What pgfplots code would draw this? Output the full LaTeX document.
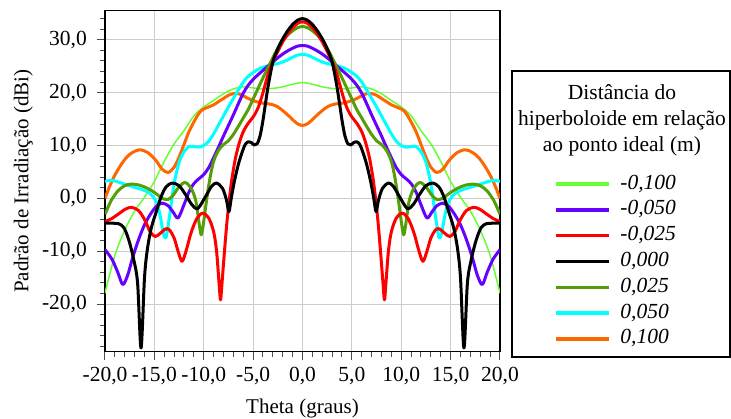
\documentclass[border=0pt]{standalone}
\usepackage{pgfplots}
\pgfplotsset{compat=1.18}
\usepackage{fontspec}
\setmainfont{Liberation Serif}
\definecolor{clg}{RGB}{102,255,51}
\definecolor{cpu}{RGB}{102,0,255}
\definecolor{cre}{RGB}{255,0,0}
\definecolor{cdg}{RGB}{84,158,8}
\definecolor{ccy}{RGB}{0,255,255}
\definecolor{cor}{RGB}{255,102,0}
\begin{document}%
\fontsize{21pt}{25.8pt}\selectfont%
\begin{tikzpicture}
\path[use as bounding box] (-105pt,-66.3pt) rectangle (626pt,351.7pt);
\begin{axis}[
  at={(0pt,0pt)}, anchor=south west,
  scale only axis, width=395pt, height=341pt,
  xmin=-20, xmax=20, ymin=-29, ymax=35.5,
  xtick={-20,-15,...,20}, ytick={-20,-10,...,30},
  minor xtick={-19,-18,...,19}, minor ytick={-28,-26,...,34},
  tick align=outside, tick pos=left,
  major tick length=8pt, minor tick length=5pt,
  tick style={line width=1pt, black!70},
  grid=major, major grid style={color=black!20, line width=1pt},
  axis line style={line width=1.2pt},
  /pgf/number format/.cd, fixed, fixed zerofill, precision=1, use comma, assume math mode=true,
  /pgfplots/.cd,
  xticklabel style={font=\fontsize{21.5pt}{25pt}\selectfont},
  yticklabel style={font=\fontsize{21.5pt}{25pt}\selectfont, xshift=-3pt},
  xlabel={Theta (graus)}, ylabel={Padrão de Irradiação (dBi)},
  label style={font=\fontsize{21pt}{25pt}\selectfont},
  ylabel style={yshift=-5pt},
  legend style={at={(1.136,0.530)}, anchor=north west, draw=none, fill=none,
    inner sep=0pt, row sep=0pt, column sep=10pt,
    nodes={inner sep=0pt, text height=14pt, text depth=4pt, minimum height=25.8pt,
      font=\fontsize{21.5pt}{25pt}\selectfont\itshape}},
  legend cell align=left,
  legend image code/.code={\draw[#1, line width=3.5pt] (0pt,0pt) -- (53pt,0pt);},
  every axis plot/.append style={smooth, tension=0.5, line join=round},
]
\addlegendimage{clg}\addlegendentry{-0,100}
\addlegendimage{cpu}\addlegendentry{-0,050}
\addlegendimage{cre}\addlegendentry{-0,025}
\addlegendimage{black}\addlegendentry{0,000}
\addlegendimage{cdg}\addlegendentry{0,025}
\addlegendimage{ccy}\addlegendentry{0,050}
\addlegendimage{cor}\addlegendentry{0,100}

% -0,100 light green
\addplot[clg, line width=1.5pt, forget plot] coordinates {
(-20,-17.9)(-19,-10.8)(-18,-6.0)(-17,-2.4)(-16,0.2)(-15,3.2)(-14,7.0)(-13,10.3)(-12,12.8)(-11,15.6)(-10,17.3)(-9,18.5)(-8,19.8)(-7,20.7)(-6,21.1)(-5,20.9)(-4,20.7)(-3,20.8)(-2,21.1)(-1,21.6)
(0,21.9)(1,21.6)(2,21.1)(3,20.8)(4,20.7)(5,20.9)(6,21.1)(7,20.7)(8,19.8)(9,18.5)(10,17.3)(11,15.6)(12,12.8)(13,10.3)(14,7.0)(15,3.2)(16,0.2)(17,-2.4)(18,-6.0)(19,-10.8)(20,-17.9)};
% 0,100 orange
\addplot[cor, line width=3pt, forget plot] coordinates {
(-20,0.0)(-19.5,2.4)(-19.0,4.4)(-18.4,6.3)(-17.8,7.8)(-17.2,8.7)(-16.5,9.2)(-15.7,8.7)(-14.9,7.3)(-14.2,5.5)(-13.6,4.9)(-13.0,5.9)(-12.5,7.8)(-12.0,10.2)(-11.5,12.6)(-10.9,14.8)(-10.4,16.3)(-10,16.9)(-9.5,17.3)(-9,17.7)(-8.5,18.3)(-8,18.9)(-7.5,19.5)(-7,19.8)(-6.5,19.8)(-6,19.4)(-5.5,18.9)(-5,18.5)(-4.5,18.2)(-4,18.0)(-3.5,17.9)(-3,17.7)(-2.5,17.3)(-2,16.6)(-1.5,15.8)(-1,14.9)(-0.5,14.1)
(0,13.8)(0.5,14.1)(1,14.9)(1.5,15.8)(2,16.6)(2.5,17.3)(3,17.7)(3.5,17.9)(4,18.0)(4.5,18.2)(5,18.5)(5.5,18.9)(6,19.4)(6.5,19.8)(7,19.8)(7.5,19.5)(8,18.9)(8.5,18.3)(9,17.7)(9.5,17.3)(10,16.9)(10.4,16.3)(10.9,14.8)(11.5,12.6)(12.0,10.2)(12.5,7.8)(13.0,5.9)(13.6,4.9)(14.2,5.5)(14.9,7.3)(15.7,8.7)(16.5,9.2)(17.2,8.7)(17.8,7.8)(18.4,6.3)(19.0,4.4)(19.5,2.4)(20,0.0)};
% 0,050 cyan
\addplot[ccy, line width=3pt, forget plot] coordinates {
(-20,3.2)(-19.5,3.4)(-19.0,3.3)(-18.2,2.8)(-17.2,2.2)(-16.3,1.7)(-15.5,1.0)(-14.9,-0.3)(-14.5,-2.5)(-14.1,-6.5)(-13.9,-7.5)(-13.75,-6.8)(-13.4,-2.5)(-13.0,2.8)(-12.5,6.8)(-12.0,8.8)(-11.5,9.8)(-11,9.8)(-10.5,9.7)(-10,10.0)(-9.5,10.8)(-9,12.2)(-8.5,13.9)(-8,15.6)(-7.5,17.3)(-7,18.9)(-6.5,20.5)(-6,22.0)(-5.5,23.1)(-5,23.8)(-4.5,24.4)(-4,24.8)(-3.5,25.1)(-3,25.3)(-2.5,25.5)(-2,25.8)(-1.5,26.2)(-1,26.7)(-0.5,27.1)
(0,27.2)(0.5,27.1)(1,26.7)(1.5,26.2)(2,25.8)(2.5,25.5)(3,25.3)(3.5,25.1)(4,24.8)(4.5,24.4)(5,23.8)(5.5,23.1)(6,22.0)(6.5,20.5)(7,18.9)(7.5,17.3)(8,15.6)(8.5,13.9)(9,12.2)(9.5,10.8)(10,10.0)(10.5,9.7)(11,9.8)(11.5,9.8)(12.0,8.8)(12.5,6.8)(13.0,2.8)(13.4,-2.5)(13.75,-6.8)(13.9,-7.5)(14.1,-6.5)(14.5,-2.5)(14.9,-0.3)(15.5,1.0)(16.3,1.7)(17.2,2.2)(18.2,2.8)(19.0,3.3)(19.5,3.4)(20,3.2)};
% -0,050 purple
\addplot[cpu, line width=3pt, forget plot] coordinates {
(-20,-9.7)(-19.3,-11.5)(-18.7,-14.0)(-18.2,-16.3)(-17.7,-14.5)(-17.2,-11.2)(-16.6,-7.8)(-16.0,-5.0)(-15.4,-3.0)(-14.8,-1.5)(-14.2,-0.9)(-13.6,-1.4)(-13.1,-2.6)(-12.6,-3.7)(-12.0,-1.2)(-11.5,1.2)(-11,2.8)(-10.5,3.7)(-10,4.5)(-9.5,5.8)(-9,7.7)(-8.5,9.7)(-8,11.8)(-7.5,13.8)(-7,15.8)(-6.5,17.9)(-6,19.9)(-5.5,21.4)(-5,22.5)(-4.5,23.4)(-4,24.2)(-3.5,25.0)(-3,25.8)(-2.5,26.6)(-2,27.3)(-1.5,27.9)(-1,28.4)(-0.5,28.8)
(0,28.9)(0.5,28.8)(1,28.4)(1.5,27.9)(2,27.3)(2.5,26.6)(3,25.8)(3.5,25.0)(4,24.2)(4.5,23.4)(5,22.5)(5.5,21.4)(6,19.9)(6.5,17.9)(7,15.8)(7.5,13.8)(8,11.8)(8.5,9.7)(9,7.7)(9.5,5.8)(10,4.5)(10.5,3.7)(11,2.8)(11.5,1.2)(12.0,-1.2)(12.6,-3.7)(13.1,-2.6)(13.6,-1.4)(14.2,-0.9)(14.8,-1.5)(15.4,-3.0)(16.0,-5.0)(16.6,-7.8)(17.2,-11.2)(17.7,-14.5)(18.2,-16.3)(18.7,-14.0)(19.3,-11.5)(20,-9.7)};
% 0,025 dark green
\addplot[cdg, line width=3pt, forget plot] coordinates {
(-20,-3.0)(-19.4,-0.5)(-18.7,1.4)(-18.0,2.4)(-17.3,2.7)(-16.5,2.5)(-15.7,1.9)(-14.9,1.0)(-14.2,0.0)(-13.6,-0.2)(-13.1,0.6)(-12.5,2.2)(-11.9,3.0)(-11.3,2.0)(-10.8,-0.5)(-10.45,-5)(-10.25,-6.9)(-10.05,-5)(-9.8,-1.5)(-9.4,3.5)(-9.0,7.0)(-8.5,9.1)(-8,10.2)(-7.5,10.9)(-7,12.1)(-6.5,13.6)(-6,15.2)(-5.5,16.8)(-5,18.8)(-4.5,20.8)(-4,22.8)(-3.5,24.7)(-3,26.6)(-2.5,28.4)(-2,29.9)(-1.5,30.9)(-1,31.7)(-0.5,32.3)
(0,32.5)(0.5,32.3)(1,31.7)(1.5,30.9)(2,29.9)(2.5,28.4)(3,26.6)(3.5,24.7)(4,22.8)(4.5,20.8)(5,18.8)(5.5,16.8)(6,15.2)(6.5,13.6)(7,12.1)(7.5,10.9)(8,10.2)(8.5,9.1)(9.0,7.0)(9.4,3.5)(9.8,-1.5)(10.05,-5)(10.25,-6.9)(10.45,-5)(10.8,-0.5)(11.3,2.0)(11.9,3.0)(12.5,2.2)(13.1,0.6)(13.6,-0.2)(14.2,0.0)(14.9,1.0)(15.7,1.9)(16.5,2.5)(17.3,2.7)(18.0,2.4)(18.7,1.4)(19.4,-0.5)(20,-3.0)};
% -0,025 red
\addplot[cre, line width=3pt, forget plot] coordinates {
(-20,-4.4)(-19.3,-3.8)(-18.6,-2.9)(-17.9,-2.0)(-17.3,-1.7)(-16.6,-2.3)(-16.0,-4.0)(-15.4,-6.4)(-14.9,-7.2)(-14.4,-6.6)(-13.9,-5.8)(-13.5,-5.9)(-13.0,-7.5)(-12.6,-10)(-12.2,-11.9)(-11.8,-10)(-11.3,-6.6)(-10.7,-3.8)(-10.1,-2.8)(-9.5,-3.7)(-9.0,-6.3)(-8.7,-10)(-8.45,-16)(-8.3,-19.2)(-8.15,-16)(-7.9,-10)(-7.6,-3.5)(-7.2,3.0)(-6.8,7.5)(-6.4,10.5)(-6,12.6)(-5.5,14.2)(-5,15.4)(-4.5,17.1)(-4,20.0)(-3.5,23.4)(-3,25.9)(-2.5,27.8)(-2,29.6)(-1.5,31.1)(-1,32.3)(-0.5,33.1)
(0,33.4)(0.5,33.1)(1,32.3)(1.5,31.1)(2,29.6)(2.5,27.8)(3,25.9)(3.5,23.4)(4,20.0)(4.5,17.1)(5,15.4)(5.5,14.2)(6,12.6)(6.4,10.5)(6.8,7.5)(7.2,3.0)(7.6,-3.5)(7.9,-10)(8.15,-16)(8.3,-19.2)(8.45,-16)(8.7,-10)(9.0,-6.3)(9.5,-3.7)(10.1,-2.8)(10.7,-3.8)(11.3,-6.6)(11.8,-10)(12.2,-11.9)(12.6,-10)(13.0,-7.5)(13.5,-5.9)(13.9,-5.8)(14.4,-6.6)(14.9,-7.2)(15.4,-6.4)(16.0,-4.0)(16.6,-2.3)(17.3,-1.7)(17.9,-2.0)(18.6,-2.9)(19.3,-3.8)(20,-4.4)};
% 0,000 black
\addplot[black, line width=3pt, forget plot] coordinates {
(-20,-4.7)(-19.2,-4.7)(-18.6,-4.8)(-18.1,-5.5)(-17.6,-7.8)(-17.1,-11.5)(-16.7,-16)(-16.35,-28.3)(-16.0,-15)(-15.7,-9.5)(-15.3,-5.5)(-14.8,-2.5)(-14.3,0.4)(-13.8,2.2)(-13.2,2.9)(-12.5,2.4)(-11.8,0.6)(-11.2,-1.2)(-10.6,-1.9)(-9.8,0.4)(-9.2,2.3)(-8.7,2.9)(-8.1,1.9)(-7.7,-0.3)(-7.45,-2.5)(-7.2,0.2)(-6.9,3.2)(-6.5,6.4)(-6.1,8.8)(-5.8,10.2)(-5.5,10.7)(-5.2,10.6)(-4.9,10.1)(-4.6,10.3)(-4.3,11.8)(-4,14.8)(-3.5,21.0)(-3,25.8)(-2.5,28.3)(-2,30.2)(-1.5,31.7)(-1,32.9)(-0.5,33.7)
(0,34.0)(0.5,33.7)(1,32.9)(1.5,31.7)(2,30.2)(2.5,28.3)(3,25.8)(3.5,21.0)(4,14.8)(4.3,11.8)(4.6,10.3)(4.9,10.1)(5.2,10.6)(5.5,10.7)(5.8,10.2)(6.1,8.8)(6.5,6.4)(6.9,3.2)(7.2,0.2)(7.45,-2.5)(7.7,-0.3)(8.1,1.9)(8.7,2.9)(9.2,2.3)(9.8,0.4)(10.6,-1.9)(11.2,-1.2)(11.8,0.6)(12.5,2.4)(13.2,2.9)(13.8,2.2)(14.3,0.4)(14.8,-2.5)(15.3,-5.5)(15.7,-9.5)(16.0,-15)(16.35,-28.3)(16.7,-16)(17.1,-11.5)(17.6,-7.8)(18.1,-5.5)(18.6,-4.8)(19.2,-4.7)(20,-4.7)};
\end{axis}
\draw[line width=1.2pt] (407pt,-5.3pt) rectangle (625pt,280.7pt);
\node[align=center, inner sep=0pt, font=\fontsize{21.5pt}{25.8pt}\selectfont] at (517pt,231.5pt)
  {Distância do\\hiperboloide em relação\\ao ponto ideal (m)};
\end{tikzpicture}%
\end{document}
